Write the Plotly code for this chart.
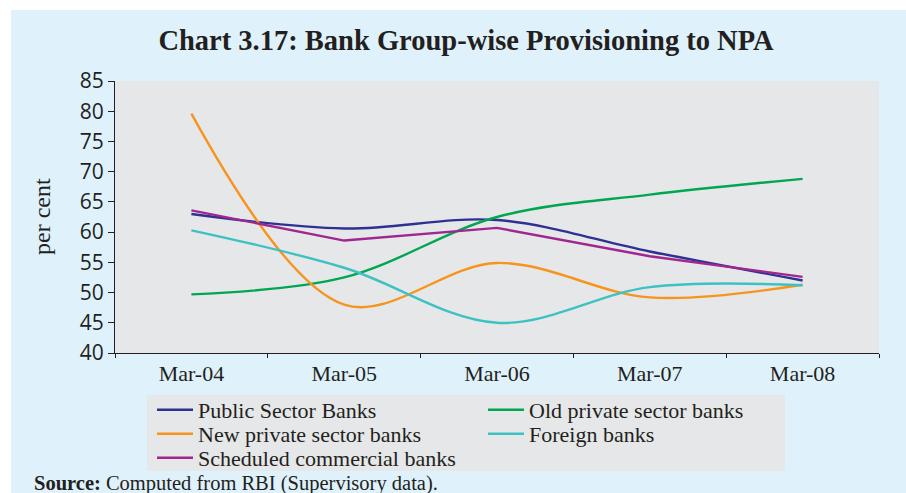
import plotly.graph_objects as go

# Provisioning to NPA by bank group (per cent), end-March
years = ["Mar-04", "Mar-05", "Mar-06", "Mar-07", "Mar-08"]

public_sector = [63.0, 60.6, 62.0, 56.8, 52.0]
old_private = [49.7, 52.5, 62.5, 66.2, 68.8]
new_private = [79.6, 48.0, 54.9, 49.2, 51.3]
foreign = [60.3, 54.1, 45.0, 50.9, 51.2]
scheduled_commercial = [63.6, 58.6, 60.7, 56.0, 52.6]

# name, values, colour, line shape, legend row
series = [
    ("Public Sector Banks", public_sector, "#2e3192", "spline", "legend"),
    ("Old private sector banks", old_private, "#00a651", "spline", "legend"),
    ("New private sector banks", new_private, "#f7941d", "spline", "legend2"),
    ("Foreign banks", foreign, "#3ec1c1", "spline", "legend2"),
    ("Scheduled commercial banks", scheduled_commercial, "#a0278f", "linear", "legend3"),
]

W, H = 906, 493
ML, MR, MT, MB = 115, 27, 81, 140
PW, PH = W - ML - MR, H - MT - MB

SERIF = "Liberation Serif"
SANS = "Open Sans"
INK = "#231f20"
PANEL = "#e6e7e8"


def px_x(x):
    return (x - ML) / PW


def px_y(y):
    return 1 - (y - MT) / PH


fig = go.Figure()
for name, vals, color, shape, leg in series:
    fig.add_trace(go.Scatter(
        x=years, y=vals, name=name, mode="lines", legend=leg,
        line=dict(color=color, width=2.4, shape=shape, smoothing=1.0),
    ))

legend_common = dict(
    orientation="h", xanchor="left", yanchor="top", x=px_x(152),
    bgcolor="rgba(0,0,0,0)",
    font=dict(family=SERIF, size=22, color=INK),
    itemwidth=36, entrywidth=280, entrywidthmode="pixels",
    tracegroupgap=0, traceorder="normal",
)

fig.update_layout(
    width=W, height=H,
    margin=dict(l=ML, r=MR, t=MT, b=MB, autoexpand=False),
    paper_bgcolor="#dff1fb",
    plot_bgcolor=PANEL,
    title=dict(
        text="<b>Chart 3.17: Bank Group-wise Provisioning to NPA</b>",
        font=dict(family=SERIF, size=28.5, color=INK),
        x=466 / W, xref="container", xanchor="center",
        y=1 - 40 / H, yref="container", yanchor="middle",
    ),
    xaxis=dict(
        type="category", range=[-0.5, 4.5],
        showline=True, linecolor=INK, linewidth=1.2,
        ticks="outside", ticklen=4, tickcolor=INK, tickson="boundaries",
        showgrid=False, zeroline=False,
        tickfont=dict(family=SERIF, size=22, color=INK),
    ),
    yaxis=dict(
        range=[40, 85], dtick=5, tick0=40,
        showline=True, linecolor=INK, linewidth=1.2,
        ticks="outside", ticklen=6, tickcolor=INK,
        showgrid=False, zeroline=False,
        tickfont=dict(family=SANS, size=21, color=INK),
    ),
    legend=dict(y=px_y(389), **legend_common),
    legend2=dict(y=px_y(413), **legend_common),
    legend3=dict(y=px_y(437), **legend_common),
    showlegend=True,
)

# grey panel behind the legend entries
fig.add_shape(type="rect", xref="paper", yref="paper",
              x0=px_x(147), x1=px_x(785), y0=px_y(471), y1=px_y(395),
              fillcolor=PANEL, line_width=0, layer="below")

# white frame strips around the light blue panel
fig.add_shape(type="rect", xref="paper", yref="paper",
              x0=px_x(0), x1=px_x(W), y0=px_y(10), y1=px_y(0),
              fillcolor="white", line_width=0, layer="below")
fig.add_shape(type="rect", xref="paper", yref="paper",
              x0=px_x(0), x1=px_x(11), y0=px_y(H), y1=px_y(0),
              fillcolor="white", line_width=0, layer="below")

fig.add_annotation(
    text="per cent", textangle=-90, showarrow=False,
    xref="paper", yref="paper", x=px_x(42), y=px_y(217),
    xanchor="center", yanchor="middle",
    font=dict(family=SERIF, size=24, color=INK),
)
fig.add_annotation(
    text="<b>Source:</b> Computed from RBI (Supervisory data).", showarrow=False,
    xref="paper", yref="paper", x=px_x(32), y=px_y(483),
    xanchor="left", yanchor="middle",
    font=dict(family=SERIF, size=20.5, color=INK),
)

fig.write_html("out.html")
